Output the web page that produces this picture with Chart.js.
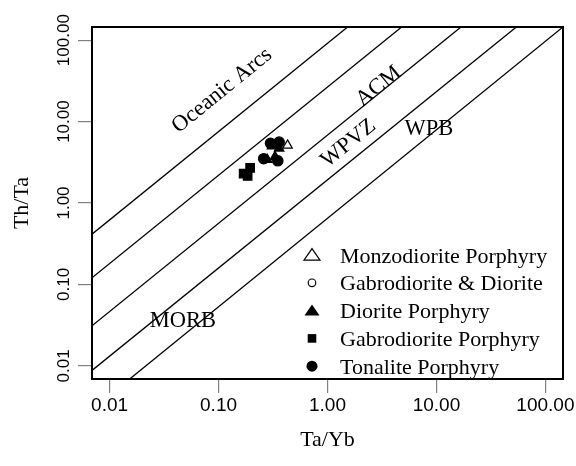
<!DOCTYPE html>
<html>
<head>
<meta charset="utf-8">
<script src="https://cdn.jsdelivr.net/npm/chart.js@4.4.1/dist/chart.umd.min.js"></script>
<style>
  html, body { margin: 0; padding: 0; background: #fff; }
  #wrap { width: 576px; height: 466px; }
</style>
</head>
<body>
<div id="wrap"><canvas id="chart" width="576" height="466"></canvas></div>
<script>
// decade ticks on both log axes
const xTicks = [0.01, 0.1, 1, 10, 100];
const xTickLabels = ['0.01', '0.10', '1.00', '10.00', '100.00'];
const yTicks = [0.01, 0.1, 1, 10, 100];
const yTickLabels = ['0.01', '0.10', '1.00', '10.00', '100.00'];

// samples: Ta/Yb (x) and Th/Ta (y)
const monzodioriteX = [0.43];
const monzodioriteY = [5.1];
const gabroDioriteX = [];
const gabroDioriteY = [];
const dioriteX = [0.28, 0.33, 0.36, 0.31];
const dioriteY = [3.4, 3.7, 4.7, 5.0];
const gabroPorphyryX = [0.195, 0.17, 0.185];
const gabroPorphyryY = [2.7, 2.3, 2.15];
const tonaliteX = [0.26, 0.35, 0.30, 0.36];
const tonaliteY = [3.5, 3.3, 5.4, 5.6];

// field boundaries, start and end of each line
const boundaryX = [[0.0069, 1.53], [0.0069, 4.79], [0.0069, 16.8], [0.0069, 54.1], [0.0153, 145]];
const boundaryY = [[0.414, 145], [0.1205, 145], [0.031, 145], [0.0088, 145], [0.0069, 145]];

const AXIS_MIN = 0.0069, AXIS_MAX = 145;
const serif = '"Liberation Serif", "Times New Roman", serif';
const sans = '"Liberation Sans", Arial, sans-serif';

const groups = [
  { label: 'Monzodiorite Porphyry', xs: monzodioriteX, ys: monzodioriteY, style: 'triangle', filled: false, r: 5.5, lr: 8 },
  { label: 'Gabrodiorite & Diorite', xs: gabroDioriteX, ys: gabroDioriteY, style: 'circle', filled: false, r: 4, lr: 3.8 },
  { label: 'Diorite Porphyry', xs: dioriteX, ys: dioriteY, style: 'triangle', filled: true, r: 5.5, lr: 7.5 },
  { label: 'Gabrodiorite Porphyry', xs: gabroPorphyryX, ys: gabroPorphyryY, style: 'rect', filled: true, r: 6, lr: 4.3 },
  { label: 'Tonalite Porphyry', xs: tonaliteX, ys: tonaliteY, style: 'circle', filled: true, r: 5.2, lr: 5.5 }
];

const zip = (xs, ys) => xs.map((x, i) => ({ x, y: ys[i] }));

const sampleSets = groups.map(g => ({
  label: g.label,
  data: zip(g.xs, g.ys),
  pointStyle: g.style,
  pointRadius: g.r,
  pointBorderWidth: 1.2,
  pointBorderColor: '#000',
  pointBackgroundColor: g.filled ? '#000' : '#fff'
}));

const boundarySets = boundaryX.map((xs, i) => ({
  label: 'boundary ' + i,
  data: zip(xs, boundaryY[i]),
  showLine: true,
  borderColor: '#000',
  borderWidth: 1.3,
  pointRadius: 0,
  fill: false
}));

// field names along / between the boundaries
const fieldLabels = [
  { text: 'Oceanic Arcs', x: 0.108, y: 24.1, slanted: true },
  { text: 'ACM', x: 2.95, y: 27, slanted: true },
  { text: 'WPVZ', x: 1.56, y: 5.42, slanted: true },
  { text: 'WPB', x: 8.53, y: 8.04, slanted: false },
  { text: 'MORB', x: 0.047, y: 0.035, slanted: false }
];

function drawMarker(ctx, style, cx, cy, r, filled) {
  ctx.beginPath();
  if (style === 'triangle') {
    ctx.moveTo(cx, cy - r * 0.8);
    ctx.lineTo(cx + r, cy + r * 0.65);
    ctx.lineTo(cx - r, cy + r * 0.65);
    ctx.closePath();
  } else if (style === 'rect') {
    ctx.rect(cx - r, cy - r, 2 * r, 2 * r);
  } else {
    ctx.arc(cx, cy, r, 0, Math.PI * 2);
  }
  if (filled) ctx.fill(); else ctx.stroke();
}

const extras = {
  id: 'extras',
  afterDatasetsDraw(chart) {
    const { ctx, chartArea: a, scales: { x, y } } = chart;
    ctx.save();
    ctx.strokeStyle = '#000';
    ctx.lineWidth = 2;
    ctx.strokeRect(a.left, a.top, a.right - a.left, a.bottom - a.top);

    // slope of the boundaries in pixels
    const b = boundaryX.length - 1;
    const ang = Math.atan2(
      y.getPixelForValue(boundaryY[b][1]) - y.getPixelForValue(boundaryY[b][0]),
      x.getPixelForValue(boundaryX[b][1]) - x.getPixelForValue(boundaryX[b][0])
    );
    ctx.fillStyle = '#000';
    ctx.font = '22.5px ' + serif;
    ctx.textAlign = 'center';
    ctx.textBaseline = 'middle';
    fieldLabels.forEach(f => {
      ctx.save();
      ctx.translate(x.getPixelForValue(f.x), y.getPixelForValue(f.y));
      if (f.slanted) ctx.rotate(ang);
      ctx.fillText(f.text, 0, 0);
      ctx.restore();
    });

    // legend, lower right of the plot
    const lx = a.left + 220, ly = a.top + 228, step = 27.8;
    ctx.font = '22px ' + serif;
    ctx.textAlign = 'left';
    ctx.textBaseline = 'alphabetic';
    ctx.lineWidth = 1.2;
    groups.forEach((g, i) => {
      const cy = ly + i * step;
      ctx.fillStyle = '#000';
      drawMarker(ctx, g.style, lx, cy, g.lr, g.filled);
      ctx.fillText(g.label, lx + 28, cy + 7.5);
    });
    ctx.restore();
  }
};

// centre the upright y tick labels on their ticks
const mctx = document.createElement('canvas').getContext('2d');
mctx.font = '17px ' + sans;
const yPad = 14 - mctx.measureText('100.00').width / 2;

new Chart(document.getElementById('chart'), {
  type: 'scatter',
  data: { datasets: [...sampleSets, ...boundarySets] },
  options: {
    responsive: false,
    animation: false,
    layout: { padding: { top: 27, right: 13, left: 0, bottom: 0 } },
    plugins: { legend: { display: false }, tooltip: { enabled: false } },
    scales: {
      x: {
        type: 'logarithmic',
        min: AXIS_MIN,
        max: AXIS_MAX,
        afterBuildTicks: s => { s.ticks = xTicks.map(v => ({ value: v })); },
        afterFit: s => { s.height = 87; },
        ticks: {
          autoSkip: false, maxRotation: 0, padding: 1, color: '#000',
          font: { family: sans, size: 19 },
          callback: (v, i) => xTickLabels[i]
        },
        grid: { drawOnChartArea: false, tickLength: 14, color: '#808080', lineWidth: 1.2 },
        border: { display: false },
        title: {
          display: true, text: 'Ta/Yb', color: '#000',
          padding: { top: 0, bottom: 13 },
          font: { family: serif, size: 22 }
        }
      },
      y: {
        type: 'logarithmic',
        min: AXIS_MIN,
        max: AXIS_MAX,
        afterBuildTicks: s => { s.ticks = yTicks.map(v => ({ value: v })); },
        afterFit: s => { s.width = 92; },
        ticks: {
          autoSkip: false, minRotation: 90, maxRotation: 90, crossAlign: 'center',
          padding: yPad, color: '#000',
          font: { family: sans, size: 17 },
          callback: (v, i) => yTickLabels[i]
        },
        grid: { drawOnChartArea: false, tickLength: 14, color: '#808080', lineWidth: 1.2 },
        border: { display: false },
        title: {
          display: true, text: 'Th/Ta', color: '#000',
          padding: { top: 9, bottom: 0 },
          font: { family: serif, size: 22 }
        }
      }
    }
  },
  plugins: [extras]
});
</script>
</body>
</html>
